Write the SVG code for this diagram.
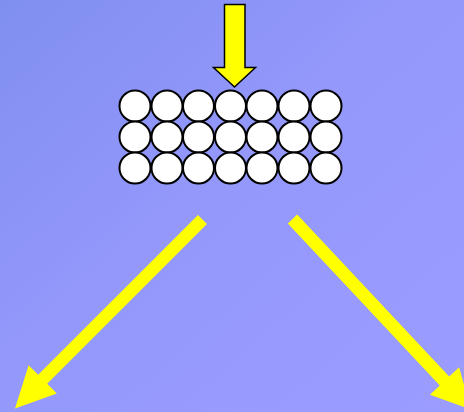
<svg xmlns="http://www.w3.org/2000/svg" width="464" height="412" viewBox="0 0 464 412">
<defs>
<linearGradient id="bg" x1="0" y1="0" x2="1" y2="1">
<stop offset="0" stop-color="#7f8ff0"/>
<stop offset="0.45" stop-color="#9498fb"/>
<stop offset="1" stop-color="#9c9cff"/>
</linearGradient>
<style>
.ball{fill:#ffffff;stroke:#000000;stroke-width:2}
.yarrow{fill:#ffff00}
.outl{stroke:#000000;stroke-width:1.5;stroke-linejoin:miter}
</style>
</defs>
<rect width="464" height="412" fill="url(#bg)"/>
<g id="input-arrow">
<polygon class="yarrow outl" points="224.5,4.5 245,4.5 245,67.5 255.5,67.5 234.5,87 213.5,67.5 224.5,67.5"/>
</g>
<g id="block">
<g id="row1">
<circle class="ball" cx="135" cy="106" r="15.5"/><circle class="ball" cx="167" cy="106" r="15.5"/><circle class="ball" cx="198.5" cy="106" r="15.5"/><circle class="ball" cx="230.5" cy="106" r="15.5"/><circle class="ball" cx="262" cy="106" r="15.5"/><circle class="ball" cx="294" cy="106" r="15.5"/><circle class="ball" cx="326" cy="106" r="15.5"/>
</g>
<g id="row2">
<circle class="ball" cx="135" cy="137" r="15.5"/><circle class="ball" cx="167" cy="137" r="15.5"/><circle class="ball" cx="198.5" cy="137" r="15.5"/><circle class="ball" cx="230.5" cy="137" r="15.5"/><circle class="ball" cx="262" cy="137" r="15.5"/><circle class="ball" cx="294" cy="137" r="15.5"/><circle class="ball" cx="326" cy="137" r="15.5"/>
</g>
<g id="row3">
<circle class="ball" cx="135" cy="168" r="15.5"/><circle class="ball" cx="167" cy="168" r="15.5"/><circle class="ball" cx="198.5" cy="168" r="15.5"/><circle class="ball" cx="230.5" cy="168" r="15.5"/><circle class="ball" cx="262" cy="168" r="15.5"/><circle class="ball" cx="294" cy="168" r="15.5"/><circle class="ball" cx="326" cy="168" r="15.5"/>
</g>
</g>
<g id="connectors">
<polygon class="yarrow" points="198,215 207,224 47.2,383.8 56.8,393.4 15,408.5 28.6,365.2 38.2,374.8"/>
<polygon class="yarrow" points="297.2,214.6 287.8,223.4 439.8,385.4 429.9,394.7 471.2,409.5 459.1,367.3 449.2,376.6"/>
</g>
</svg>
